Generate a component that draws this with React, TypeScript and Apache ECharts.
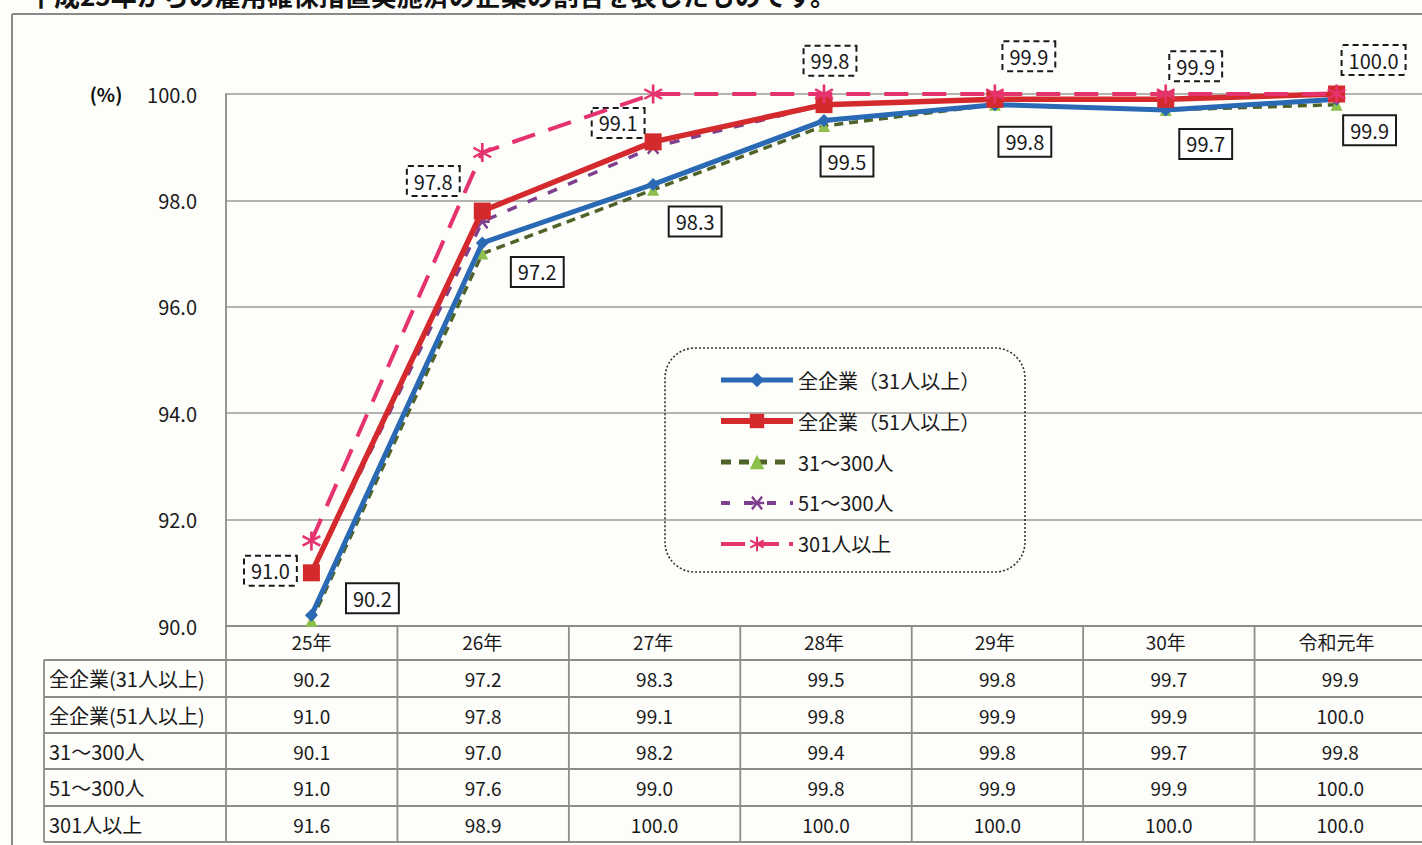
import React, { useEffect, useRef } from "react";
import * as echarts from "echarts";

const years = ["25年", "26年", "27年", "28年", "29年", "30年", "令和元年"];
const seriesNames = ["全企業(31人以上)", "全企業(51人以上)", "31～300人", "51～300人", "301人以上"];
const legendNames = ["全企業（31人以上）", "全企業（51人以上）", "31～300人", "51～300人", "301人以上"];
const all31 = [90.2, 97.2, 98.3, 99.5, 99.8, 99.7, 99.9];
const all51 = [91.0, 97.8, 99.1, 99.8, 99.9, 99.9, 100.0];
const s31to300 = [90.1, 97.0, 98.2, 99.4, 99.8, 99.7, 99.8];
const s51to300 = [91.0, 97.6, 99.0, 99.8, 99.9, 99.9, 100.0];
const s301plus = [91.6, 98.9, 100.0, 100.0, 100.0, 100.0, 100.0];
const yTicks = [90, 92, 94, 96, 98, 100];
const caption = "平成25年からの雇用確保措置実施済の企業の割合を表したものです。";

// label offsets (layout only)
const blueOffsets = [[61, -17], [55, 29], [42, 37], [23, 41], [30, 37], [40, 34], [33, 31]];
const redOffsets = [[-41, -2], [-49, -30], [-35, -19], [6, -44], [34, -43], [30, -33], [37, -34]];

function barsPath(anglesDeg: number[], len = 10, th = 1.4) {
  let d = "";
  for (const a of anglesDeg) {
    const r = (a * Math.PI) / 180;
    const c = Math.cos(r), s = Math.sin(r);
    const dx = c * len, dy = s * len, nx = -s * th, ny = c * th;
    const p = [
      [-dx + nx, -dy + ny],
      [dx + nx, dy + ny],
      [dx - nx, dy - ny],
      [-dx - nx, -dy - ny],
    ].map((q) => `${(q[0] + 12).toFixed(2)},${(q[1] + 12).toFixed(2)}`);
    d += `M${p[0]}L${p[1]}L${p[2]}L${p[3]}Z`;
  }
  return "path://" + d;
}

const FONT = "'Noto Sans CJK JP', 'Noto Sans', sans-serif";

export default function App() {
  const ref = useRef<HTMLDivElement>(null);
  useEffect(() => {
    if (!ref.current) return;
    const chart = echarts.init(ref.current, undefined, { renderer: "svg" });
    const gridLeft = 226, gridTop = 94, gridW = 1200, gridH = 532;
    const colW = gridW / years.length;
    const tableTop = gridTop + gridH; // 626
    const rowLines = [660, 697, 733, 769, 806, 842];
    const tableLeft = 44;
    const rowsData = [all31, all51, s31to300, s51to300, s301plus];

    const graphics: any[] = [];
    graphics.push({ type: "line", shape: { x1: 12, y1: 14, x2: 1422, y2: 14 }, style: { stroke: "#8a8a8a", lineWidth: 2 } });
    graphics.push({ type: "line", shape: { x1: 12, y1: 14, x2: 12, y2: 845 }, style: { stroke: "#8a8a8a", lineWidth: 2 } });
    graphics.push({
      type: "text", x: 28, y: -6,
      style: { text: caption, fontSize: 26, fontFamily: FONT, fill: "#111", fontWeight: "bold", verticalAlign: "middle" },
    });
    graphics.push({
      type: "text", x: 106, y: gridTop - 1,
      style: { text: "(%)", fontSize: 19, fontFamily: FONT, fill: "#111", fontWeight: "bold", align: "center", verticalAlign: "middle" },
    });
    graphics.push({
      type: "rect", shape: { x: 665, y: 348, width: 360, height: 224, r: 30 },
      style: { fill: "none", stroke: "#333", lineWidth: 1.6, lineDash: [2, 2] }, z: 10,
    });
    const tcol = "#8c8c8c";
    graphics.push({ type: "line", shape: { x1: gridLeft, y1: tableTop, x2: gridLeft, y2: rowLines[5] }, style: { stroke: tcol, lineWidth: 1.8 } });
    for (let i = 1; i < years.length; i++) {
      const x = gridLeft + i * colW;
      graphics.push({ type: "line", shape: { x1: x, y1: tableTop, x2: x, y2: rowLines[5] }, style: { stroke: tcol, lineWidth: 1.8 } });
    }
    graphics.push({ type: "line", shape: { x1: tableLeft, y1: rowLines[0], x2: tableLeft, y2: rowLines[5] }, style: { stroke: tcol, lineWidth: 1.8 } });
    rowLines.forEach((y) => {
      graphics.push({ type: "line", shape: { x1: tableLeft, y1: y, x2: 1422, y2: y }, style: { stroke: tcol, lineWidth: 1.8 } });
    });
    for (let r = 0; r < 5; r++) {
      const cy = (rowLines[r] + rowLines[r + 1]) / 2;
      graphics.push({
        type: "text", x: tableLeft + 5, y: cy,
        style: { text: seriesNames[r], fontSize: 20, fontFamily: FONT, fill: "#1a1a1a", verticalAlign: "middle", align: "left" },
      });
      for (let c = 0; c < years.length; c++) {
        graphics.push({
          type: "text", x: gridLeft + (c + 0.5) * colW, y: cy,
          style: { text: rowsData[r][c].toFixed(1), fontSize: 19, fontFamily: FONT, fill: "#1a1a1a", verticalAlign: "middle", align: "center" },
        });
      }
    }

    const labelBase = {
      show: true, position: "inside", fontSize: 20, fontFamily: FONT, color: "#1a1a1a",
      backgroundColor: "#fff", borderColor: "#1a1a1a", borderWidth: 2, padding: [5, 6, 3, 6],
    };

    const markX = barsPath([0, 45, -45], 10, 1.5);
    const markAst = barsPath([90, 30, -30], 10, 1.3);

    const blue = "#2a69b4", red = "#d52a2d", green = "#4f6228", purple = "#7e3f8e", pink = "#e5336f";

    chart.setOption({
      animation: false,
      backgroundColor: "#fdfdfa",
      textStyle: { fontFamily: FONT },
      grid: { left: gridLeft, top: gridTop, width: gridW, height: gridH },
      xAxis: {
        type: "category", data: years, boundaryGap: true,
        axisLine: { show: true, lineStyle: { color: "#8c8c8c", width: 1.8 } },
        axisTick: { show: false },
        axisLabel: { fontSize: 19, color: "#1a1a1a", margin: 6, fontFamily: FONT },
        splitLine: { show: false },
      },
      yAxis: {
        type: "value", min: yTicks[0], max: yTicks[yTicks.length - 1], interval: 2,
        axisLine: { show: true, lineStyle: { color: "#8c8c8c", width: 1.8 } },
        axisTick: { show: false },
        axisLabel: { fontSize: 20, color: "#1a1a1a", margin: 29, formatter: (v: number) => v.toFixed(1), fontFamily: FONT },
        splitLine: { show: true, lineStyle: { color: "#9a9a9a", width: 1.6 } },
      },
      legend: {
        orient: "vertical", left: 718, top: 370, padding: 0,
        itemWidth: 72, itemHeight: 18, itemGap: 21, selectedMode: false,
        data: [
          { name: seriesNames[0], lineStyle: { width: 5, color: blue } },
          { name: seriesNames[1], lineStyle: { width: 6, color: red } },
          { name: seriesNames[2], lineStyle: { width: 5, color: green, type: [10, 8] } },
          { name: seriesNames[3], lineStyle: { width: 4, color: purple, type: [9, 14] } },
          { name: seriesNames[4], lineStyle: { width: 4, color: pink, type: [24, 10] } },
        ],
        formatter: (n: string) => legendNames[seriesNames.indexOf(n)],
        textStyle: { fontSize: 20, color: "#1a1a1a", fontFamily: FONT },
      },
      series: [
        {
          name: seriesNames[2], type: "line", data: s31to300, z: 2,
          symbol: "triangle", symbolSize: 12,
          lineStyle: { color: green, width: 3.5, type: [9, 6] },
          itemStyle: { color: "#8cc04a" },
        },
        {
          name: seriesNames[0], type: "line", z: 3,
          data: all31.map((v, i) => ({ value: v, label: { ...labelBase, offset: blueOffsets[i] } })),
          symbol: "diamond", symbolSize: 13,
          lineStyle: { color: blue, width: 5 },
          itemStyle: { color: blue },
          label: { ...labelBase, formatter: (p: any) => Number(p.value).toFixed(1) },
        },
        {
          name: seriesNames[3], type: "line", data: s51to300, z: 4,
          symbol: markX, symbolSize: 15,
          lineStyle: { color: purple, width: 3.5, type: [10, 12] },
          itemStyle: { color: purple },
        },
        {
          name: seriesNames[1], type: "line", z: 5,
          data: all51.map((v, i) => ({ value: v, label: { ...labelBase, offset: redOffsets[i], borderType: [6, 4] } })),
          symbol: "rect", symbolSize: 17,
          lineStyle: { color: red, width: 5.5 },
          itemStyle: { color: red },
          label: { ...labelBase, borderType: [6, 4], formatter: (p: any) => Number(p.value).toFixed(1) },
        },
        {
          name: seriesNames[4], type: "line", data: s301plus, z: 6,
          symbol: markAst, symbolSize: 19,
          lineStyle: { color: pink, width: 4, type: [24, 14] },
          itemStyle: { color: pink },
        },
      ],
      graphic: graphics,
    });
    return () => chart.dispose();
  }, []);
  return <div ref={ref} style={{ position: "fixed", left: 0, top: 0, width: 1422, height: 845 }} />;
}
